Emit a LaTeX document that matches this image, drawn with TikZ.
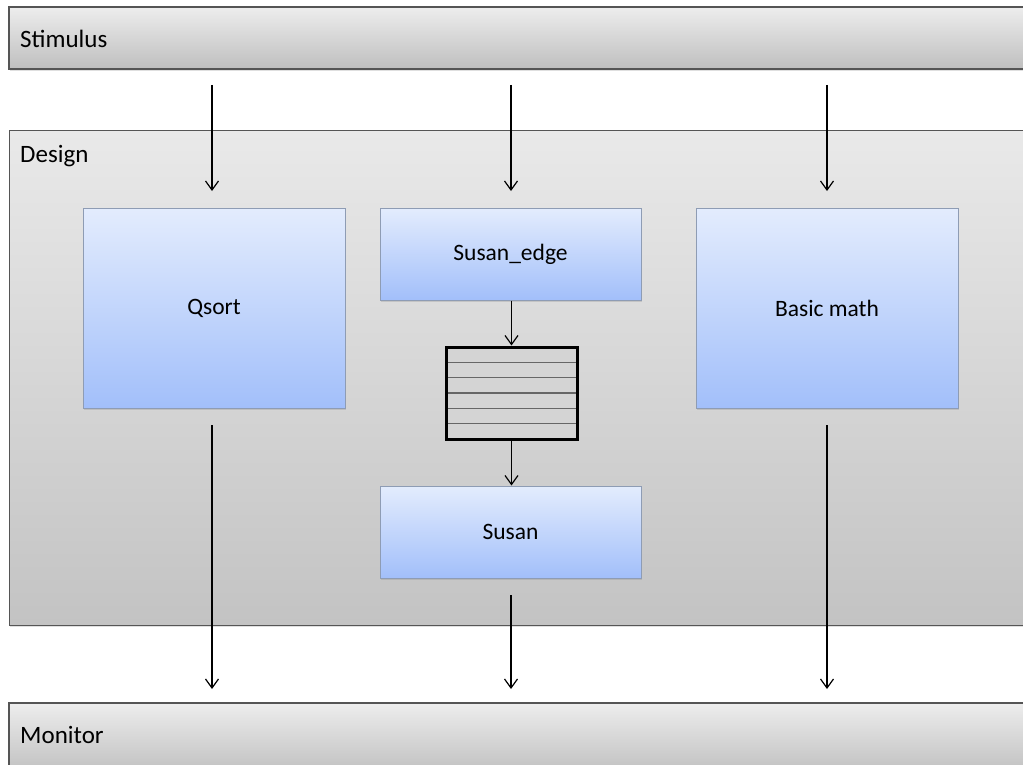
\documentclass[tikz,border=0pt]{standalone}
\usepackage{fontspec}
\setmainfont{Carlito}
\usetikzlibrary{arrows.meta,shadows}
\definecolor{bartop}{HTML}{EDEDED}
\definecolor{barbot}{HTML}{BFBFBF}
\definecolor{destop}{HTML}{E9E9E9}
\definecolor{desbot}{HTML}{C3C3C3}
\definecolor{bluetop}{HTML}{E3ECFD}
\definecolor{bluebot}{HTML}{A2BFFA}
\definecolor{blueline}{HTML}{8E9CB4}
\definecolor{barline}{HTML}{555555}
\tikzset{
  shd/.style={drop shadow={opacity=0.25, shadow xshift=0.5pt, shadow yshift=-2pt}},
  bar/.style={draw=barline, line width=1.2pt, top color=bartop, bottom color=barbot},
  designbox/.style={draw=barline, line width=1pt, top color=destop, bottom color=desbot},
  block/.style={draw=blueline, line width=1pt, top color=bluetop, bottom color=bluebot, inner sep=0pt, shd},
  lbl/.style={font=\fontsize{23.5}{28}\selectfont, inner sep=0pt},
  barlbl/.style={font=\fontsize{25}{30}\selectfont, inner sep=0pt, anchor=base west},
  flow/.style={line width=1.2pt, -{Straight Barb[length=9pt,width=13pt,line width=1.2pt]}},
  fifobox/.style={fill=desbot!55!destop, inner sep=0pt, outer sep=0pt},
}
\begin{document}
\begin{tikzpicture}[x=1pt,y=-1pt]
\useasboundingbox (0,0) rectangle (1023,765);
\fill[white] (0,0) rectangle (1023,765);
% bars
\path[bar, shd] (9,7) rectangle (1035,69);
\node[barlbl] (stim) at (20,48) {Stimulus};
\path[designbox, shd] (9,131) rectangle (1035,625);
\node[barlbl] (des) at (20,163) {Design};
\path[bar] (9,703) rectangle (1035,775);
\node[barlbl] (mon) at (20,743) {Monitor};
% blocks
\node[block, minimum width=262pt, minimum height=200pt, lbl] (qsort) at (214,308) {Qsort};
\node[block, minimum width=261pt, minimum height=92pt, lbl] (sedge) at (510.5,254) {Susan\_edge};
\node[block, minimum width=262pt, minimum height=200pt, lbl] (bmath) at (827,308) {Basic math};
\node[block, minimum width=261pt, minimum height=92pt, lbl] (susan) at (510.5,532) {Susan};
% fifo
\node[fifobox, minimum width=131pt, minimum height=92pt] (fifo) at (511.5,393) {};
\foreach \i in {1,...,5}{
  \draw[line width=1.6pt, draw=black!60] ([yshift=-\i*15.33pt]fifo.north west) -- ([yshift=-\i*15.33pt]fifo.north east);
}
\draw[line width=3pt] (fifo.north west) rectangle (fifo.south east);
% coordinates
\coordinate (s1) at (212,85);
\coordinate (s2) at (511,85);
\coordinate (s3) at (827,85);
\coordinate (d1) at (212,191);
\coordinate (d2) at (511,191);
\coordinate (d3) at (827,191);
\coordinate (o1) at (212,425);
\coordinate (o2) at (511,595);
\coordinate (o3) at (827,425);
\coordinate (m1) at (212,689);
\coordinate (m2) at (511,689);
\coordinate (m3) at (827,689);
\draw[flow] (s1) -- (d1);
\draw[flow] (s2) -- (d2);
\draw[flow] (s3) -- (d3);
\draw[flow] (sedge.south -| fifo.north) -- ([yshift=1.5pt]fifo.north);
\draw[flow] ([yshift=-1.5pt]fifo.south) -- (fifo.south |- susan.north);
\draw[flow] (o1) -- (m1);
\draw[flow] (o2) -- (m2);
\draw[flow] (o3) -- (m3);
\end{tikzpicture}
\end{document}
